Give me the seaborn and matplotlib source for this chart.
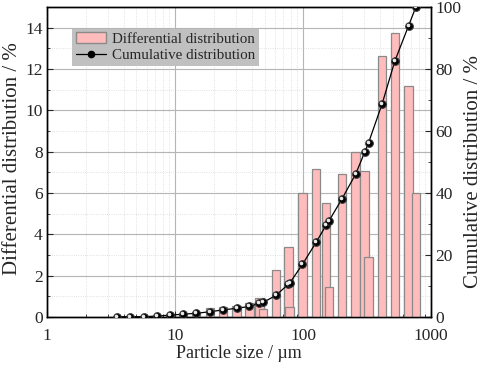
import numpy as np
import pandas as pd
import seaborn as sns
import matplotlib.pyplot as plt
import matplotlib.transforms as mtransforms
from matplotlib.ticker import MultipleLocator, LogLocator, NullFormatter
from matplotlib.patches import Patch
from matplotlib.lines import Line2D

# Data

sizes = [3.54, 4.45, 5.72, 7.19, 9.14, 11.55, 14.6, 18.8, 23.7, 30.2, 38.0, 45.6, 48.7,
         61.5, 76.7, 78.5, 98.8, 126.4, 151.4, 159.7, 201.6, 257, 302, 324, 414, 520, 665, 759]
differential = [0.02, 0.03, 0.04, 0.06, 0.1, 0.12, 0.26, 0.45, 0.5, 0.53, 0.69, 0.9, 0.39,
                2.27, 3.4, 0.48, 6.0, 7.15, 5.5, 1.47, 6.9, 7.97, 7.08, 2.92, 12.63, 13.73, 11.18, 6.0]
cumulative = [0.1, 0.1, 0.1, 0.3, 0.6, 0.9, 1.2, 1.7, 2.3, 2.8, 3.4, 4.4, 4.7,
              7.0, 10.6, 10.9, 17.0, 24.1, 29.7, 31.1, 38.2, 46.1, 53.1, 56.2, 68.8, 82.6, 93.9, 100]

df = pd.DataFrame({"size": sizes, "diff": differential, "cum": cumulative})

sns.set_style("ticks")
plt.rcParams['font.family'] = ['Liberation Serif', 'DejaVu Serif']
plt.rcParams['xtick.direction'] = 'in'
plt.rcParams['ytick.direction'] = 'in'

fig = plt.figure(figsize=(4.84, 3.65), dpi=100)
ax = fig.add_axes([0.097, 0.1315, 0.794, 0.8495])
ax2 = ax.twinx()

# bars of constant width in log space
half = 0.033
left = df["size"] * 10 ** (-half)
width = df["size"] * (10 ** half - 10 ** (-half))
ax.bar(left, df["diff"], width=width, align='edge', color='#ffbcbc',
       edgecolor='#8a8a8a', linewidth=0.9, zorder=3)

sns.lineplot(data=df, x="size", y="cum", ax=ax2, color='black', lw=0.9,
             marker='o', markersize=5.5, markerfacecolor='black',
             markeredgecolor='#333333', zorder=4)
# small highlight on the ball markers
shift = mtransforms.ScaledTranslation(-1 / 100, 1 / 100, fig.dpi_scale_trans)
ax2.plot(df["size"], df["cum"], ls='none', marker='o', markersize=1.6,
         color='#e8e8e8', transform=ax2.transData + shift, zorder=5)

ax.set_xscale('log')
ax.set_xlim(1, 1000)
ax.set_ylim(0, 15)
ax2.set_ylim(0, 100)

ax.xaxis.set_minor_locator(LogLocator(base=10, subs=np.arange(2, 10), numticks=10))
ax.xaxis.set_minor_formatter(NullFormatter())
ax.set_xticks([1, 10, 100, 1000])
ax.set_xticklabels(['1', '10', '100', '1000'])
ax.yaxis.set_major_locator(MultipleLocator(2))
ax.yaxis.set_minor_locator(MultipleLocator(1))
ax2.yaxis.set_major_locator(MultipleLocator(20))
ax2.yaxis.set_minor_locator(MultipleLocator(10))

ax.grid(which='major', color='#b5b5b5', lw=0.8, zorder=0)
ax.grid(which='minor', color='#d8d8d8', lw=0.6, ls=':', zorder=0)
ax.set_axisbelow(True)

for a in (ax, ax2):
    a.tick_params(which='major', length=4, width=0.8, labelsize=12.5, pad=3)
    a.tick_params(which='minor', length=2.5, width=0.6)
    for s in a.spines.values():
        s.set_linewidth(1.0)
        s.set_color('black')
ax.tick_params(axis='x', pad=8)

ax.set_xlabel("Particle size / µm", fontsize=13)
ax.xaxis.set_label_coords(0.5, -0.09)
ax.set_ylabel("Differential distribution / %", fontsize=15)
ax.yaxis.set_label_coords(-0.066, 0.51)
ax2.set_ylabel("Cumulative distribution / %", fontsize=15)
ax2.yaxis.set_label_coords(1.085, 0.47)

handles = [Patch(facecolor='#ffbcbc', edgecolor='#8a8a8a'),
           Line2D([0], [0], color='black', lw=0.9, marker='o', markersize=4.5,
                  markerfacecolor='black')]
leg = ax2.legend(handles, ["Differential distribution", "Cumulative distribution"],
                 loc='upper left', bbox_to_anchor=(0.065, 0.93), borderaxespad=0,
                 frameon=True, fancybox=False, fontsize=10.8, handlelength=2.0,
                 handletextpad=0.4, borderpad=0.25, labelspacing=0.2)
leg.get_frame().set_facecolor('#c0c0c0')
leg.get_frame().set_edgecolor('none')
leg.get_frame().set_alpha(1)

fig.savefig("out.png", dpi=100)
